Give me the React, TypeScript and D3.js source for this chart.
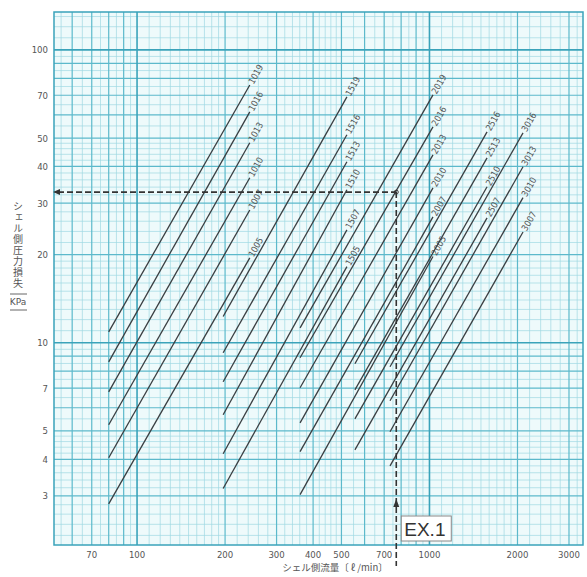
import React from "react";
import * as d3 from "d3";

// ---- data ----
const models = [
  "1019", "1016", "1013", "1010", "1007", "1005",
  "1519", "1516", "1513", "1510", "1507", "1505",
  "2019", "2016", "2013", "2010", "2007", "2005",
  "2516", "2513", "2510", "2507",
  "3016", "3013", "3010", "3007",
];
const flowFrom = [
  80, 80, 80, 80, 80, 80,
  197, 197, 197, 197, 197, 197,
  361, 361, 361, 361, 361, 361,
  556, 556, 556, 556,
  733, 733, 733, 733,
];
const flowTo = [
  243, 243, 243, 243, 243, 243,
  522, 522, 522, 522, 522, 522,
  1028, 1028, 1028, 1028, 1028, 1028,
  1574, 1574, 1574, 1574,
  2089, 2089, 2089, 2089,
];
const lossFrom = [
  10.9, 8.61, 6.8, 5.25, 4.05, 2.82,
  12.3, 9.25, 7.36, 5.68, 4.18, 3.18,
  11.25, 8.89, 7.02, 5.33, 4.25, 3.03,
  8.48, 6.91, 5.5, 4.31,
  8.28, 6.34, 4.97, 3.8,
];
const lossTo = [
  75.9, 61.4, 48.2, 36.6, 28.4, 19.5,
  69.1, 51.3, 41.5, 33.3, 24.3, 18.2,
  70.2, 54.6, 43.8, 33.8, 26.9, 19.7,
  52.5, 42.8, 34.1, 26.7,
  52.1, 39.9, 31.3, 23.9,
];
const xTickLabels = [70, 100, 200, 300, 400, 500, 700, 1000, 2000, 3000];
const yTickLabels = [3, 4, 5, 7, 10, 20, 30, 40, 50, 70, 100];
const exampleFlow = 770;
const exampleLoss = 32.7;
const yTitle = "シェル側圧力損失";

// ---- layout ----
const W = 587, H = 577;
const L = 54, R = 583, T = 12, B = 545;
const xDomain = [52, 3350];
const yDomain = [2.04, 134.7];

function gridValues(lo: number, hi: number) {
  const major: number[] = [];
  const minor: number[] = [];
  const decade: number[] = [];
  for (let k = -1; k <= 4; k++) {
    const p = Math.pow(10, k);
    for (let m = 1; m <= 9; m++) {
      const v = m * p;
      if (v > lo && v < hi) (m === 1 ? decade : major).push(v);
    }
    const steps: [number, number, number][] = [[1, 2, 0.1], [2, 5, 0.2], [5, 10, 0.5]];
    for (const [a, b, s] of steps) {
      for (let v = a + s; v < b - 1e-9; v += s) {
        const val = +(v * p).toPrecision(6);
        if (Math.abs(val / p - Math.round(val / p)) < 1e-6) continue;
        if (val > lo && val < hi) minor.push(val);
      }
    }
  }
  return { major, minor, decade };
}

export default function App() {
  const x = d3.scaleLog().domain(xDomain).range([L, R]);
  const y = d3.scaleLog().domain(yDomain).range([B, T]);
  const gx = gridValues(xDomain[0], xDomain[1]);
  const gy = gridValues(yDomain[0], yDomain[1]);
  const minorC = "#9fd8e2", majorC = "#5cb9cb", decC = "#3aa3ba";
  const ex = x(exampleFlow), ey = y(exampleLoss);

  return (
    <svg width={W} height={H} style={{ position: "absolute", left: 0, top: 0, background: "#fff" }}>
      <rect x={L} y={T} width={R - L} height={B - T} fill="#eefafb" />
      {/* minor grid */}
      {gx.minor.map((v, i) => (
        <line key={"xm" + i} x1={x(v)} x2={x(v)} y1={T} y2={B} stroke={minorC} strokeWidth={0.7} />
      ))}
      {gy.minor.map((v, i) => (
        <line key={"ym" + i} x1={L} x2={R} y1={y(v)} y2={y(v)} stroke={minorC} strokeWidth={0.7} />
      ))}
      {gx.major.map((v, i) => (
        <line key={"xM" + i} x1={x(v)} x2={x(v)} y1={T} y2={B} stroke={majorC} strokeWidth={1.2} />
      ))}
      {gy.major.map((v, i) => (
        <line key={"yM" + i} x1={L} x2={R} y1={y(v)} y2={y(v)} stroke={majorC} strokeWidth={1.2} />
      ))}
      {gx.decade.map((v, i) => (
        <line key={"xD" + i} x1={x(v)} x2={x(v)} y1={T} y2={B} stroke={decC} strokeWidth={1.6} />
      ))}
      {gy.decade.map((v, i) => (
        <line key={"yD" + i} x1={L} x2={R} y1={y(v)} y2={y(v)} stroke={decC} strokeWidth={1.6} />
      ))}
      <rect x={L} y={T} width={R - L} height={B - T} fill="none" stroke={decC} strokeWidth={1.5} />

      {/* performance lines */}
      {models.map((m, i) => {
        const x1 = x(flowFrom[i]), y1 = y(lossFrom[i]);
        const x2 = x(flowTo[i]), y2 = y(lossTo[i]);
        const ang = (Math.atan2(y2 - y1, x2 - x1) * 180) / Math.PI;
        return (
          <g key={m}>
            <line x1={x1} y1={y1} x2={x2} y2={y2} stroke="#3a3f42" strokeWidth={1.3} />
            <text
              transform={`translate(${x2},${y2}) rotate(${ang})`}
              dx={2}
              dy={3}
              fontSize={9}
              fontFamily="'DejaVu Sans Condensed','DejaVu Sans',sans-serif"
              fill="#555"
            >
              {m}
            </text>
          </g>
        );
      })}

      {/* example EX.1 */}
      <line x1={L + 4} y1={ey} x2={ex} y2={ey} stroke="#333" strokeWidth={1.6} strokeDasharray="6,3" />
      <polygon points={`${L - 1},${ey} ${L + 6},${ey - 3} ${L + 6},${ey + 3}`} fill="#333" />
      <line x1={ex} y1={ey} x2={ex} y2={566} stroke="#333" strokeWidth={1.6} strokeDasharray="6,3" />
      <circle cx={ex} cy={ey} r={2} fill="none" stroke="#333" strokeWidth={1} />
      <polygon points={`${ex},${y(2.93)} ${ex - 3},${y(2.93) + 8} ${ex + 3},${y(2.93) + 8}`} fill="#333" />
      <rect x={ex + 5} y={516} width={50} height={25} fill="#fff" stroke="#888" strokeWidth={1} />
      <text x={ex + 8} y={536} fontSize={19} fontFamily="'Liberation Sans',Arial,sans-serif" fill="#333">
        EX.1
      </text>

      {/* axes labels */}
      {xTickLabels.map((v) => (
        <text
          key={"xt" + v}
          x={x(v)}
          y={558}
          textAnchor="middle"
          fontSize={9.5}
          fontFamily="'DejaVu Sans Condensed','DejaVu Sans',sans-serif"
          fill="#555"
        >
          {v}
        </text>
      ))}
      {yTickLabels.map((v) => (
        <text
          key={"yt" + v}
          x={48}
          y={y(v) + 3.5}
          textAnchor="end"
          fontSize={9.5}
          fontFamily="'DejaVu Sans Condensed','DejaVu Sans',sans-serif"
          fill="#555"
        >
          {v}
        </text>
      ))}
      <text
        x={335}
        y={571}
        textAnchor="middle"
        fontSize={9.5}
        fontFamily="'Noto Sans CJK JP',sans-serif"
        fill="#555"
      >
        シェル側流量〔 ℓ /min〕
      </text>
      <text
        x={18}
        y={201}
        fontSize={10}
        fontFamily="'Noto Sans CJK JP',sans-serif"
        fill="#555"
        letterSpacing={1}
        style={{ writingMode: "vertical-rl" }}
      >
        {yTitle}
      </text>
      <line x1={10} x2={27} y1={294} y2={294} stroke="#666" strokeWidth={1} />
      <text x={18} y={305} textAnchor="middle" fontSize={9} fontFamily="'DejaVu Sans',sans-serif" fill="#555">
        KPa
      </text>
      <line x1={10} x2={27} y1={310} y2={310} stroke="#666" strokeWidth={1} />
    </svg>
  );
}
